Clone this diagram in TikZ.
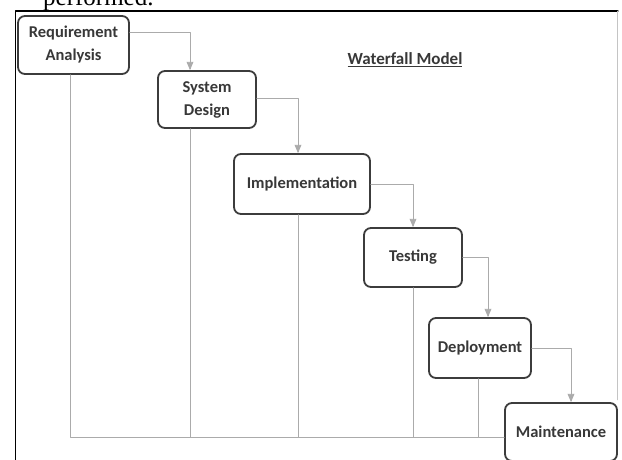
\documentclass[tikz,border=0pt]{standalone}
\usepackage{fontspec}
\setmainfont{Carlito}
\newfontfamily\paperfont{Liberation Serif}
\usetikzlibrary{arrows}
\definecolor{boxgray}{HTML}{3C3C3C}
\definecolor{linegray}{HTML}{ABABAB}

\begin{document}
\begin{tikzpicture}[line cap=round,line join=round,>=triangle 45,x=1pt,y=-1pt,
  phase/.style={draw=boxgray,line width=1.8pt,rounded corners=7pt,fill=white,text=black!78,
    font=\bfseries\fontsize{16.5}{23}\selectfont,align=center,inner sep=0pt},
  flow/.style={->,draw=linegray,line width=0.9pt},
  back/.style={draw=linegray,line width=0.9pt}]

\useasboundingbox (0,0) rectangle (622,459);
\clip (0,0) rectangle (622,459);

% page text and frame
\node[anchor=base west,inner sep=0pt,font=\paperfont\fontsize{25}{30}\selectfont] (paper) at (43,5) {performed.};
\draw[line width=1.2pt] (15.5,470) -- (15.5,11) -- (618,11);
\draw[linegray!70] (617,11) -- (617,400);

\node[font=\bfseries\fontsize{17}{20}\selectfont,text=black!78] (title) at (405,60) {\underline{Waterfall Model}};

% phases
\node[phase,minimum width=111pt,minimum height=58pt] (ra) at (73.5,45) {Requirement\\Analysis};
\node[phase,minimum width=98pt,minimum height=57pt] (sd) at (207,99.5) {System\\Design};
\node[phase,minimum width=136pt,minimum height=60pt] (impl) at (302,184) {Implementation};
\node[phase,minimum width=98pt,minimum height=59pt] (test) at (413,257.5) {Testing};
\node[phase,minimum width=102pt,minimum height=60pt] (deploy) at (480,348) {Deployment};
\node[phase,minimum width=112pt,minimum height=58pt] (maint) at (561,432) {Maintenance};

% forward flow
\draw[flow] ([yshift=13pt]ra.east) -| ([xshift=-17pt]sd.north);
\draw[flow] ([yshift=1pt]sd.east) -| ([xshift=-4pt]impl.north);
\draw[flow] (impl.east) -| (test.north);
\draw[flow] (test.east) -| ([xshift=8pt]deploy.north);
\draw[flow] (deploy.east) -| ([xshift=10pt]maint.north);

% feedback lines
\coordinate (base) at ([yshift=-5pt]maint.west);
\draw[back] ([xshift=-3.5pt]ra.south) |- (base);
\draw[back] ([xshift=-17pt]sd.south) -- ([xshift=-17pt]sd.south |- base);
\draw[back] ([xshift=-4pt]impl.south) -- ([xshift=-4pt]impl.south |- base);
\draw[back] (test.south) -- (test.south |- base);
\draw[back] ([xshift=-2pt]deploy.south) -- ([xshift=-2pt]deploy.south |- base);
\end{tikzpicture}
\end{document}
